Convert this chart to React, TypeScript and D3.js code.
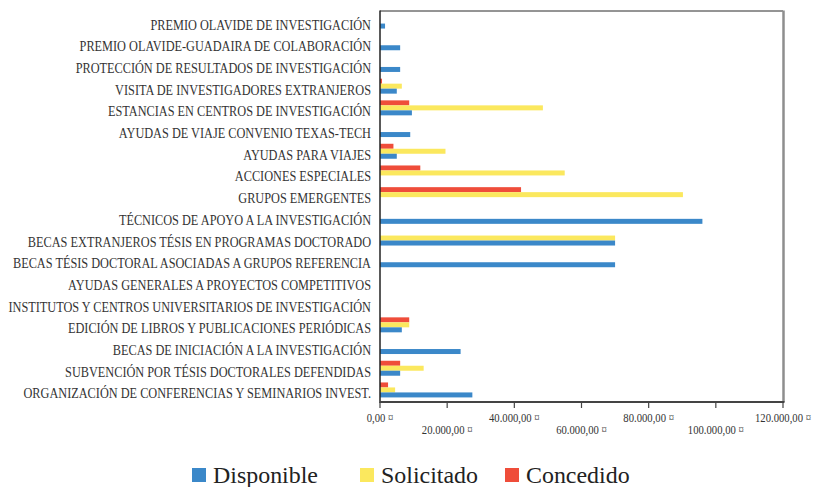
import React, { useLayoutEffect, useRef, useState } from "react";
import * as d3 from "d3";

const categories = [
  "PREMIO OLAVIDE DE INVESTIGACIÓN",
  "PREMIO OLAVIDE-GUADAIRA DE COLABORACIÓN",
  "PROTECCIÓN DE RESULTADOS DE INVESTIGACIÓN",
  "VISITA DE INVESTIGADORES EXTRANJEROS",
  "ESTANCIAS EN CENTROS DE INVESTIGACIÓN",
  "AYUDAS DE VIAJE CONVENIO TEXAS-TECH",
  "AYUDAS PARA VIAJES",
  "ACCIONES ESPECIALES",
  "GRUPOS EMERGENTES",
  "TÉCNICOS DE APOYO A LA INVESTIGACIÓN",
  "BECAS EXTRANJEROS TÉSIS EN PROGRAMAS DOCTORADO",
  "BECAS TÉSIS DOCTORAL ASOCIADAS A GRUPOS REFERENCIA",
  "AYUDAS GENERALES A PROYECTOS COMPETITIVOS",
  "INSTITUTOS Y CENTROS UNIVERSITARIOS DE INVESTIGACIÓN",
  "EDICIÓN DE LIBROS Y PUBLICACIONES PERIÓDICAS",
  "BECAS DE INICIACIÓN A LA INVESTIGACIÓN",
  "SUBVENCIÓN POR TÉSIS DOCTORALES DEFENDIDAS",
  "ORGANIZACIÓN DE CONFERENCIAS Y SEMINARIOS INVEST.",
];

const disponible = [1500, 6000, 6000, 5000, 9500, 9000, 5000, 0, 0, 96000, 70000, 70000, 0, 0, 6500, 24000, 6000, 27500];
const solicitado = [0, 0, 0, 6500, 48500, 0, 19500, 55000, 90200, 0, 70000, 0, 0, 0, 8700, 0, 13000, 4500];
const concedido = [0, 0, 0, 600, 8700, 0, 4000, 12000, 42000, 0, 0, 0, 0, 0, 8700, 0, 6000, 2400];

const seriesNames = ["Concedido", "Solicitado", "Disponible"];
const seriesColors = ["#ef4d3a", "#fbe85e", "#3b88c9"];
const legendOrder = ["Disponible", "Solicitado", "Concedido"];

const xTicks = [0, 20000, 40000, 60000, 80000, 100000, 120000];

const fmt = (v: number) => {
  const s = d3.format(",.2f")(v).replace(/,/g, "X").replace(/\./g, ",").replace(/X/g, ".");
  return s + " ¤";
};

const FONT = "'Liberation Serif', 'Times New Roman', 'DejaVu Serif', serif";

export default function App() {
  const W = 814, H = 487;
  const left = 380, right = 783, top = 11, bottom = 402;
  const x = d3.scaleLinear().domain([0, 120000]).range([left, right]);
  const y0 = d3.scaleBand<string>().domain(categories).range([top - 1, bottom - 1]).paddingInner(0.31).paddingOuter(0.165);
  const y1 = d3.scaleBand<string>().domain(seriesNames).range([0, y0.bandwidth()]);
  const dataBy: Record<string, number[]> = { Disponible: disponible, Solicitado: solicitado, Concedido: concedido };
  const colorOf = (n: string) => seriesColors[seriesNames.indexOf(n)];

  const legendX = [192, 360, 505];

  const ref = useRef<SVGSVGElement | null>(null);
  const [k, setK] = useState({ label: 0.83, tick: 0.86, legend: 1 });

  useLayoutEffect(() => {
    const svg = ref.current;
    if (!svg) return;
    const widest = (sel: string) => {
      let m = 0;
      svg.querySelectorAll(sel).forEach((el) => {
        const w = (el as SVGTextElement).getComputedTextLength();
        if (w > m) m = w;
      });
      return m;
    };
    const wl = widest("text.cat-label");
    const wt = widest("text.tick-label");
    const wg = (svg.querySelector("text.legend-label") as SVGTextElement | null)?.getComputedTextLength() || 0;
    setK({
      label: wl ? 363 / wl : 0.83,
      tick: wt ? 56 / wt : 0.86,
      legend: wg ? 105 / wg : 1,
    });
  }, []);

  return (
    <svg ref={ref} width={W} height={H} style={{ position: "absolute", left: 0, top: 0, background: "#fff", fontFamily: FONT }}>
      <rect x={0} y={0} width={W} height={H} fill="#fff" />
      {categories.map((c, i) => (
        <g key={c}>
          {seriesNames.map((s) => {
            const v = dataBy[s][i];
            if (!v) return null;
            return (
              <rect key={s} x={x(0)} y={(y0(c) as number) + (y1(s) as number)} width={x(v) - x(0)}
                height={y1.bandwidth()} fill={colorOf(s)} />
            );
          })}
          <text className="cat-label" transform={`translate(371,${(y0(c) as number) + y0.bandwidth() / 2 + 8.5}) scale(${k.label},1)`}
            textAnchor="end" style={{ fontFamily: FONT, fontSize: 14 }} fill="#333">{c}</text>
        </g>
      ))}
      <line x1={left} x2={right} y1={top} y2={top} stroke="#2a2a2a" strokeWidth={1} />
      <line x1={right + 0.5} x2={right + 0.5} y1={top - 0.5} y2={bottom} stroke="#8e8e8e" strokeWidth={2.5} />
      <line x1={left} x2={left} y1={top - 0.5} y2={bottom + 1} stroke="#222" strokeWidth={1.5} />
      <line x1={left} x2={right + 1.5} y1={bottom} y2={bottom} stroke="#444" strokeWidth={1.8} />
      {xTicks.map((t, i) => (
        <g key={t}>
          <line x1={x(t)} x2={x(t)} y1={bottom} y2={bottom + 6} stroke="#444" strokeWidth={1.2} />
          <text className="tick-label" transform={`translate(${x(t)},${i % 2 === 0 ? 421.5 : 433.5}) scale(${k.tick},1)`}
            textAnchor="middle" style={{ fontFamily: FONT, fontSize: 13.5 }} fill="#333">{fmt(t)}</text>
        </g>
      ))}
      {legendOrder.map((n, i) => (
        <g key={n}>
          <rect x={legendX[i]} y={468} width={14} height={14} fill={colorOf(n)} />
          <text className="legend-label" transform={`translate(${legendX[i] + 21},483) scale(${k.legend},1)`}
            style={{ fontFamily: FONT, fontSize: 24 }} fill="#222">{n}</text>
        </g>
      ))}
    </svg>
  );
}
